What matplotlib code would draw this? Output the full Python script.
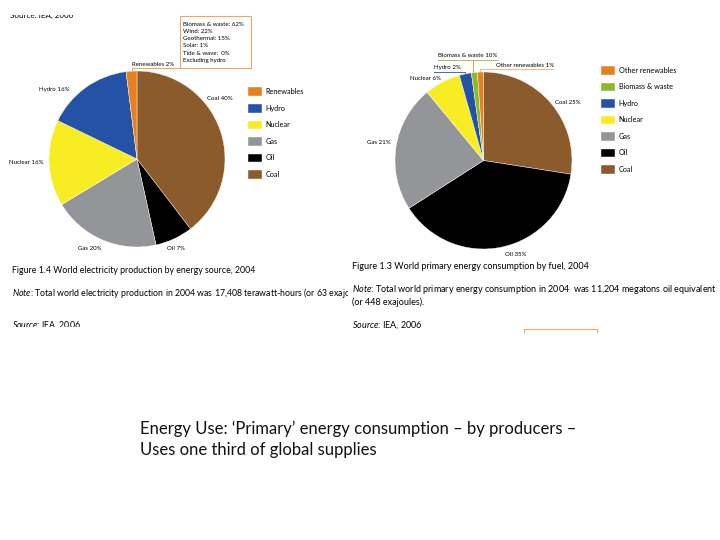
import numpy as np
import matplotlib.pyplot as plt
from matplotlib.patches import Rectangle
from matplotlib.transforms import Bbox

# left chart: world electricity production 2004 (clockwise from 12 o'clock)
elec_names = ['Coal', 'Oil', 'Gas', 'Nuclear', 'Hydro', 'Renewables']
elec_vals = [40, 7, 20, 16, 16, 2]
elec_cols = ['#8c5b2c', '#000000', '#939598', '#f8ec22', '#2453a5', '#e8801e']
elec_box = ['Biomass & waste: 62%', 'Wind: 22%', 'Geothermal: 15%',
            'Solar: 1%', 'Tide & wave:  0%', 'Excluding hydro']

# right chart: world primary energy consumption 2004
# (the biomass slice is drawn at 1 in the original, its label says 10%)
prim_names = ['Coal', 'Oil', 'Gas', 'Nuclear', 'Hydro', 'Biomass & waste', 'Other renewables']
prim_vals = [25, 35, 21, 6, 2, 1, 1]
prim_labels = ['25%', '35%', '21%', '6%', '2%', '10%', '1%']
prim_cols = ['#8c5b2c', '#000000', '#939598', '#f8ec22', '#2453a5', '#8dba2c', '#e8801e']

FONT = 'Lato'
W, H = 720, 540
SMALL = 4.4
CAP = 6.3

plt.rcParams['mathtext.fontset'] = 'custom'
plt.rcParams['mathtext.rm'] = FONT
plt.rcParams['mathtext.it'] = FONT + ':italic'

fig = plt.figure(figsize=(7.2, 5.4), dpi=100)
fig.patch.set_facecolor('white')

bg = fig.add_axes([0, 0, 1, 1])   # pixel coords, y down
bg.set_xlim(0, W)
bg.set_ylim(H, 0)
bg.axis('off')


def pie_axes(cx, cy, r):
    return fig.add_axes([(cx - r) / W, 1 - (cy + r) / H, 2 * r / W, 2 * r / H])


def txt(x, y, s, size=SMALL, clip=None, **kw):
    t = bg.text(x, y, s, fontsize=size, family=FONT, ha='left', va='center', **kw)
    if clip is not None:
        x0, y0, x1, y1 = clip
        t.set_clip_box(Bbox.from_extents(x0, H - y1, x1, H - y0))
        t.set_clip_on(True)
    return t


# ---- left pie
ax1 = pie_axes(137, 159, 88)
w1, _ = ax1.pie(elec_vals, colors=elec_cols, startangle=90, counterclock=False,
                wedgeprops=dict(linewidth=0.3, edgecolor='white'))
ax1.set_xlim(-1, 1)
ax1.set_ylim(-1, 1)
ax1.axis('off')

txt(207, 99, 'Coal 40%')
txt(167, 248, 'Oil 7%')
txt(78, 248, 'Gas 20%')
txt(9, 163, 'Nuclear 16%')
txt(39, 90, 'Hydro 16%')
txt(132, 64.5, 'Renewables 2%')

# renewables breakdown box
bg.add_patch(Rectangle((180, 16), 71, 52, fill=False, edgecolor='#f0a860', linewidth=0.8))
bg.plot([132, 180], [68, 68], color='#f0a860', lw=0.8)
bg.plot([132, 132], [68, 72], color='#f0a860', lw=0.8)
for i, s in enumerate(elec_box):
    txt(183, 24 + i * 7.3, s, size=4.4)

leg_kw = dict(loc='upper left', frameon=False, prop=dict(family=FONT, size=5.2),
              handlelength=1.95, handleheight=1.45, labelspacing=1.1,
              handletextpad=0.55, borderpad=0, borderaxespad=0)
fig.legend(w1[::-1], elec_names[::-1], bbox_to_anchor=(247.5 / W, 1 - 87.5 / H), **leg_kw)

# ---- right pie
ax2 = pie_axes(483.5, 160.5, 88.5)
w2, _ = ax2.pie(prim_vals, colors=prim_cols, startangle=90, counterclock=False,
                wedgeprops=dict(linewidth=0.3, edgecolor='white'))
ax2.set_xlim(-1, 1)
ax2.set_ylim(-1, 1)
ax2.axis('off')

txt(555, 102, 'Coal ' + prim_labels[0])
txt(505, 254, 'Oil ' + prim_labels[1])
txt(367, 143, 'Gas ' + prim_labels[2])
txt(410, 79, 'Nuclear ' + prim_labels[3])
txt(434, 67.5, 'Hydro ' + prim_labels[4])
txt(438, 55.5, 'Biomass & waste ' + prim_labels[5])
txt(496, 65.5, 'Other renewables ' + prim_labels[6])

bg.plot([434, 465, 465], [72, 72, 74], color='#2453a5', lw=0.6)
bg.plot([438, 498], [59.5, 59.5], color='#8dba2c', lw=0.6)
bg.plot([473, 473], [59.5, 73], color='#8dba2c', lw=0.6)
bg.plot([480, 480, 553], [73, 69, 69], color='#f0a860', lw=0.6)

fig.legend(w2[::-1], prim_names[::-1], bbox_to_anchor=(600.5 / W, 1 - 66 / H), **leg_kw)

# ---- captions
left_clip = (0, 14.5, 348, 326.8)
txt(10, 15, 'Source: IEA, 2006', size=5.8, clip=left_clip)
txt(12, 270.5, 'Figure 1.4 World electricity production by energy source, 2004', size=CAP)
txt(12, 293, r'$\it{Note}$: Total world electricity production in 2004 was 17,408 '
    r'terawatt-hours (or 63 exajoules).', size=CAP, clip=left_clip)
txt(12, 325, r'$\it{Source}$: IEA, 2006.', size=CAP, clip=left_clip)

txt(352, 266.5, 'Figure 1.3 World primary energy consumption by fuel, 2004', size=6.45)
txt(352, 290, r'$\it{Note}$: Total world primary energy consumption in 2004  was 11,204 '
    r'megatons oil equivalent', size=6.5)
txt(352, 302, '(or 448 exajoules).', size=6.5)
txt(352, 325, r'$\it{Source}$: IEA, 2006', size=6.5)

bg.plot([524, 524, 597, 597], [332, 329, 329, 332], color='#f0a860', lw=0.8)

# ---- slide text
txt(140, 429, 'Energy Use: \u2018Primary\u2019 energy consumption \u2013 by producers \u2013',
    size=12, color='#111111')
txt(140, 450, 'Uses one third of global supplies', size=12, color='#111111')

fig.savefig('out.png', dpi=100, facecolor='white')
